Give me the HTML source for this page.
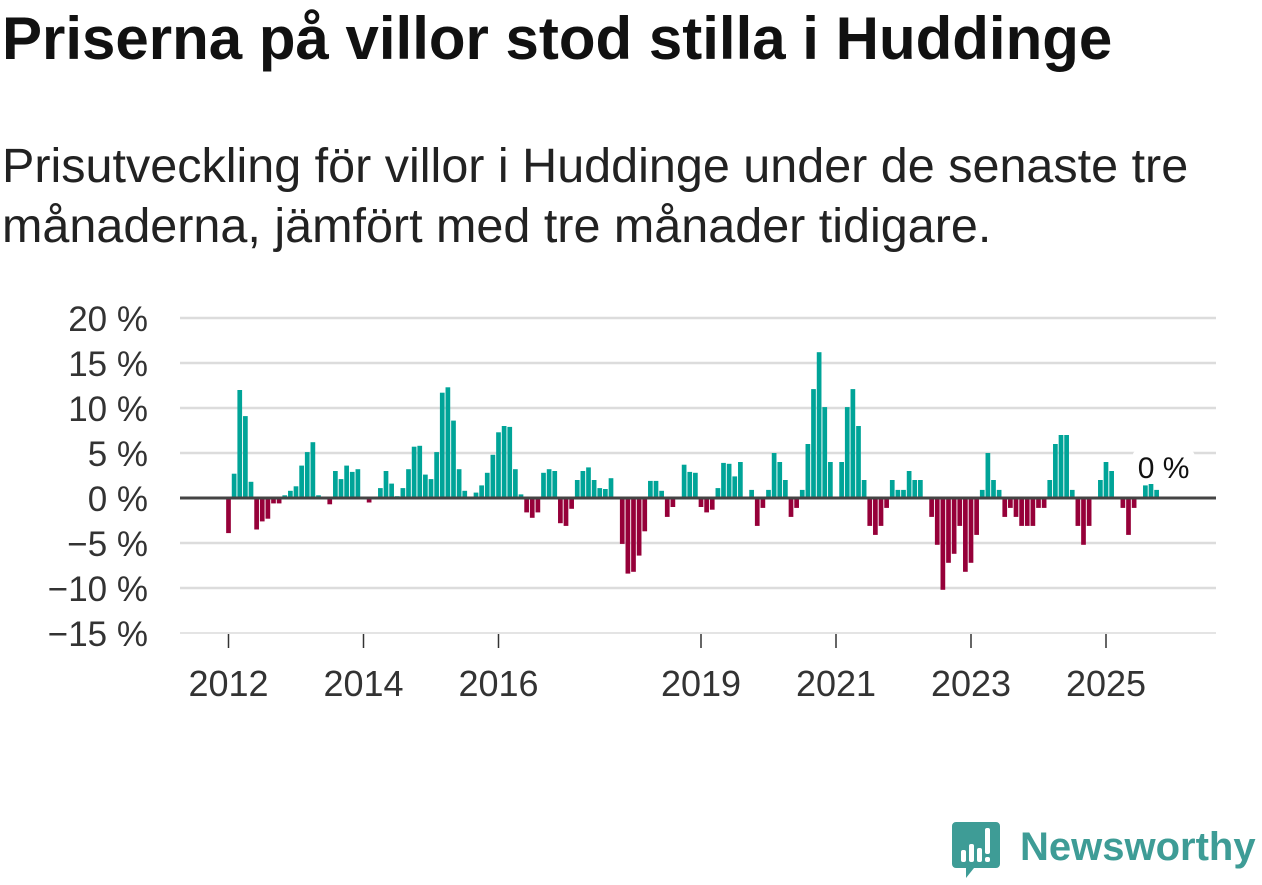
<!DOCTYPE html>
<html><head><meta charset="utf-8">
<style>
html,body{margin:0;padding:0;background:#fff;}
body{width:1262px;height:879px;position:relative;overflow:hidden;font-family:"Liberation Sans",sans-serif;color:#111;}
#title{position:absolute;left:2px;top:4px;font-size:60px;line-height:70px;font-weight:bold;color:#111;white-space:nowrap;}
#subtitle{position:absolute;left:2px;top:136px;font-size:48.5px;line-height:60px;color:#222;white-space:nowrap;}
#chart{position:absolute;left:0;top:0;}
#logo{position:absolute;left:950px;top:818px;}
</style></head><body>
<div id="title">Priserna på villor stod stilla i Huddinge</div>
<div id="subtitle">Prisutveckling för villor i Huddinge under de senaste tre<br>månaderna, jämfört med tre månader tidigare.</div>
<svg id="chart" width="1262" height="879"></svg>
<div id="logo">
<svg width="312" height="62">
<path d="M6,4 h40 a4,4 0 0 1 4,4 v38 a4,4 0 0 1 -4,4 h-22 l-8,10 v-10 h-10 a4,4 0 0 1 -4,-4 v-38 a4,4 0 0 1 4,-4z" fill="#3e9c96"/>
<rect x="11" y="32" width="5" height="12" rx="2" fill="#fff"/>
<rect x="19" y="26" width="5" height="18" rx="2" fill="#fff"/>
<rect x="27" y="30" width="5" height="14" rx="2" fill="#fff"/>
<rect x="35" y="10" width="5" height="26" rx="2" fill="#fff"/>
<rect x="35" y="39" width="5" height="5" rx="2" fill="#fff"/>
<text x="70" y="42" font-family="Liberation Sans, sans-serif" font-size="40" fill="#3e9c96" font-weight="bold">Newsworthy</text>
</svg></div>
<script>
const values = [-3.9,2.7,12.0,9.1,1.8,-3.5,-2.6,-2.3,-0.6,-0.6,0.3,0.8,1.3,3.6,5.1,6.2,0.3,0,-0.7,3.0,2.1,3.6,2.9,3.2,0,-0.5,0,1.1,3.0,1.6,0.2,1.1,3.2,5.7,5.8,2.6,2.1,5.1,11.7,12.3,8.6,3.2,0.8,0,0.6,1.4,2.8,4.8,7.3,8.0,7.9,3.2,0.4,-1.6,-2.2,-1.6,2.8,3.2,3.0,-2.8,-3.1,-1.2,2.0,3.0,3.4,2.0,1.1,1.0,2.2,0,-5.1,-8.4,-8.2,-6.4,-3.7,1.9,1.9,0.8,-2.1,-1.0,0,3.7,2.9,2.8,-1.0,-1.6,-1.3,1.1,3.9,3.8,2.4,4.0,0,0.9,-3.1,-1.1,0.9,5.0,4.0,2.0,-2.1,-1.1,0.9,6.0,12.1,16.2,10.1,4.0,0,4.0,10.1,12.1,8.0,2.0,-3.1,-4.1,-3.1,-1.1,2.0,0.9,0.9,3.0,2.0,2.0,0,-2.1,-5.2,-10.2,-7.2,-6.2,-3.1,-8.2,-7.2,-4.1,0.9,5.0,2.0,0.9,-2.1,-1.1,-2.1,-3.1,-3.1,-3.1,-1.1,-1.1,2.0,6.0,7.0,7.0,0.9,-3.1,-5.2,-3.1,0,2.0,4.0,3.0,0,-1.1,-4.1,-1.1,0,1.4,1.7,0.9];
const startYear = 2012;
const yTicks = [20,15,10,5,0,-5,-10,-15];
const yTickLabels = ["20 %","15 %","10 %","5 %","0 %","\u22125 %","\u221210 %","\u221215 %"];
const xTickYears = [2012,2014,2016,2019,2021,2023,2025];
const lastLabel = "0 %";

const svg = document.getElementById('chart');
const NS = 'http://www.w3.org/2000/svg';
const y = v => 498 - v*9;
const x = m => 228.5 + m*5.625;
function mk(tag, attrs){const e=document.createElementNS(NS,tag);for(const k in attrs)e.setAttribute(k,attrs[k]);svg.appendChild(e);return e;}

yTicks.forEach((t,i)=>{
  if(t!==0){
    const g=mk('line',{x1:180,x2:1216,y1:y(t),y2:y(t),stroke:'#dcdcdc','stroke-width':t===-15?1.5:2.5});
    
    
  }
  const tx=mk('text',{x:148,y:y(t)+13,'text-anchor':'end','font-size':35,fill:'#333','font-family':'Liberation Sans, sans-serif'});
  tx.textContent=yTickLabels[i];
  
  
});

xTickYears.forEach(yr=>{
  const px=x((yr-startYear)*12);
  const tk=mk('line',{x1:px,x2:px,y1:634,y2:648,stroke:'#333','stroke-width':1.5});
  
  
  const tx=mk('text',{x:px,y:696,'text-anchor':'middle','font-size':36,fill:'#333','font-family':'Liberation Sans, sans-serif'});
  tx.textContent=yr;
  
  
});

values.forEach((v,i)=>{
  if(v===0)return;
  const top=Math.min(y(v),y(0)), h=Math.abs(y(v)-y(0));
  const r=mk('rect',{x:x(i)-2.35,y:top,width:4.7,height:h,fill:v>0?'#00a498':'#960039'});
  
  
});

const zl=mk('line',{x1:180,x2:1216,y1:498,y2:498,stroke:'#444','stroke-width':3});



const lx=x(values.length-1)+6;
const bg=mk('rect',{x:lx-30,y:450,width:62,height:34,fill:'#fff',rx:6});


const lt=mk('text',{x:lx+1,y:478,'text-anchor':'middle','font-size':30,fill:'#111','font-family':'Liberation Sans, sans-serif'});
lt.textContent=lastLabel;


</script>
</body></html>
